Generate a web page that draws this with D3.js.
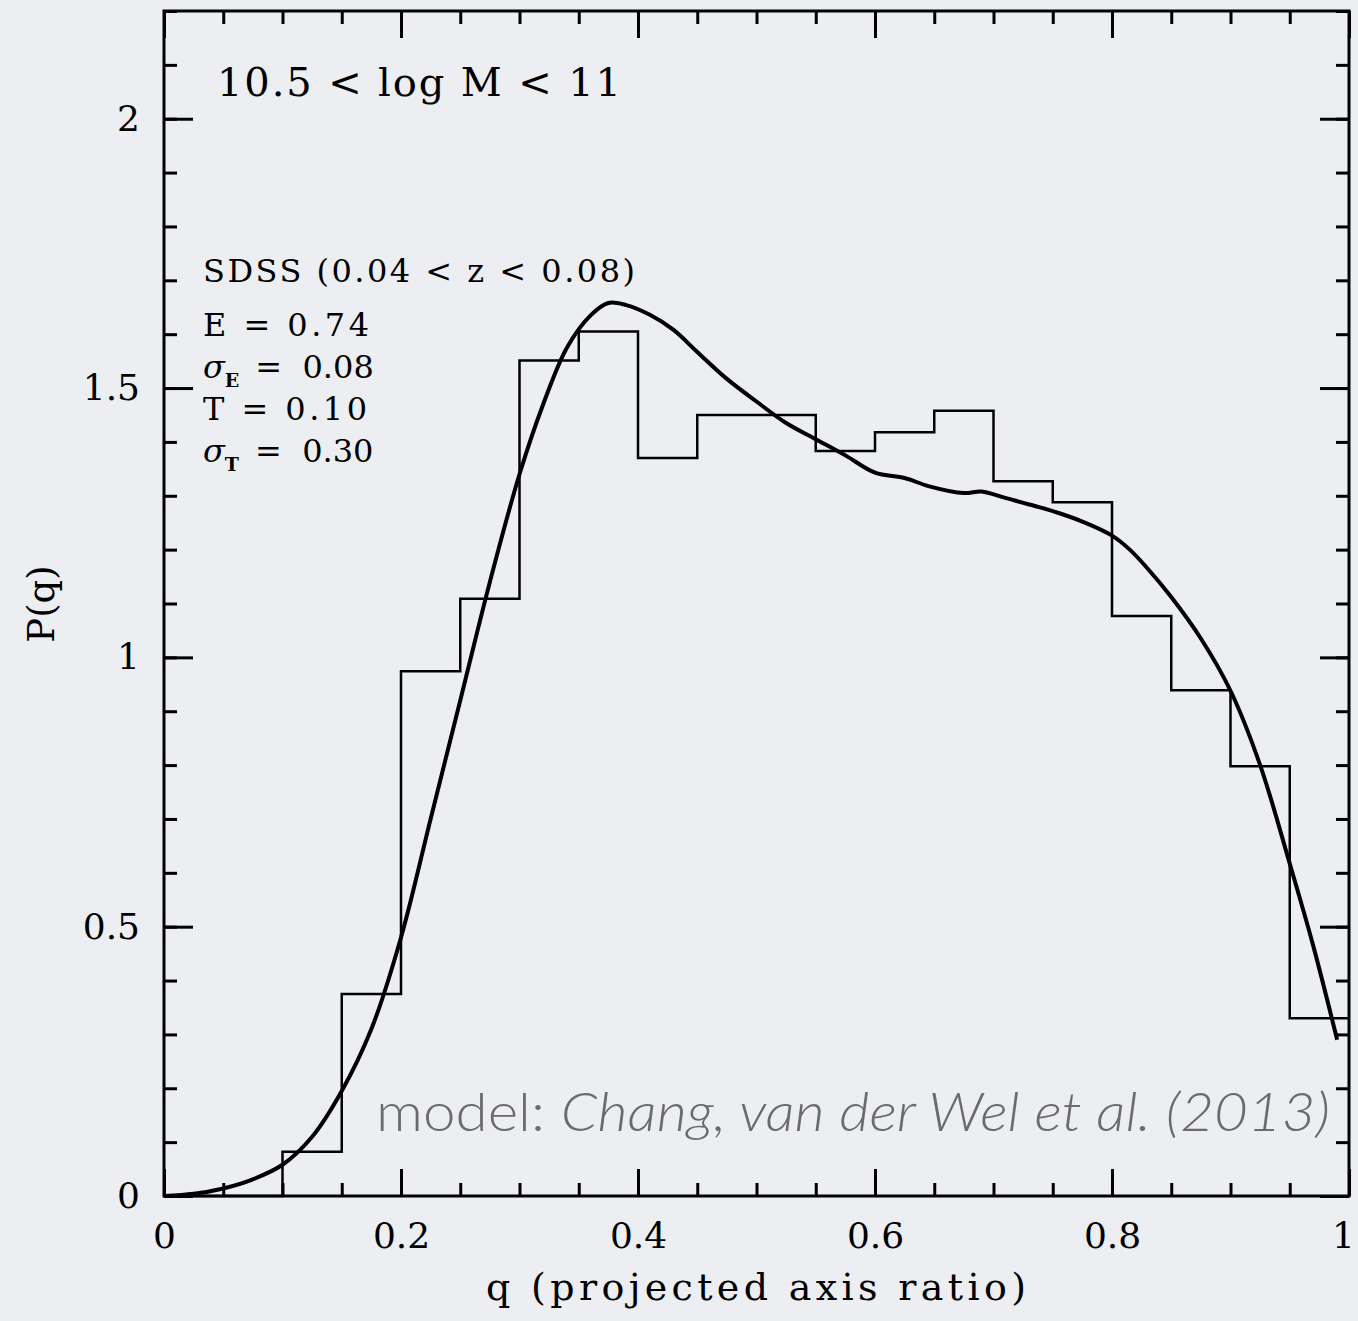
<!DOCTYPE html>
<html>
<head>
<meta charset="utf-8">
<script src="https://cdn.jsdelivr.net/npm/d3@7"></script>
<style>
  html, body { margin: 0; padding: 0; background: #eceef1; }
  svg { display: block; }
</style>
</head>
<body>
<div id="chart"></div>
<script>
// histogram of observed q, bins of 0.05 from 0 to 1
const binStarts = [0, 0.05, 0.1, 0.15, 0.2, 0.25, 0.3, 0.35, 0.4, 0.45,
                   0.5, 0.55, 0.6, 0.65, 0.7, 0.75, 0.8, 0.85, 0.9, 0.95]
const binValues = [0, 0, 0.082, 0.375, 0.974, 1.109, 1.551, 1.605, 1.370, 1.450,
                   1.450, 1.383, 1.418, 1.458, 1.327, 1.288, 1.077, 0.939, 0.798, 0.330]

// model curve
const modelQ = [0, 0.025, 0.05, 0.075, 0.1, 0.125, 0.15, 0.175, 0.2, 0.225, 0.25, 0.275,
                0.3, 0.32, 0.34, 0.36, 0.375, 0.39, 0.41, 0.43, 0.45, 0.475, 0.5, 0.525,
                0.55, 0.575, 0.6, 0.625, 0.645, 0.675, 0.69, 0.71, 0.735, 0.755, 0.775,
                0.8, 0.815, 0.83, 0.85, 0.875, 0.9, 0.925, 0.95, 0.97, 0.99]
const modelP = [0, 0.004, 0.014, 0.031, 0.058, 0.11, 0.195, 0.31, 0.48, 0.70, 0.92, 1.14,
                1.34, 1.47, 1.575, 1.635, 1.658, 1.654, 1.636, 1.608, 1.567, 1.517, 1.475, 1.435,
                1.405, 1.375, 1.343, 1.333, 1.318, 1.305, 1.308, 1.296, 1.281, 1.268, 1.252,
                1.226, 1.2, 1.165, 1.112, 1.035, 0.938, 0.80, 0.617, 0.463, 0.29]

const xMajor = [0, 0.2, 0.4, 0.6, 0.8, 1]
const xLabels = ["0", "0.2", "0.4", "0.6", "0.8", "1"]
const yMajor = [0, 0.5, 1, 1.5, 2]
const yLabels = ["0", "0.5", "1", "1.5", "2"]

const W = 1358, H = 1321
const margin = {left: 164, top: 11, right: 9, bottom: 125}
const pw = W - margin.left - margin.right
const ph = H - margin.top - margin.bottom

const svg = d3.select("#chart").append("svg")
    .attr("width", W).attr("height", H)

const g = svg.append("g")
    .attr("transform", `translate(${margin.left}, ${margin.top})`)

const x = d3.scaleLinear().domain([0, 1]).range([0, pw])
const y = d3.scaleLinear().domain([0, 2.2]).range([ph, 0])

const serif = "'DejaVu Serif', serif"

// minor ticks
const xMinor = d3.range(0, 1.0001, 0.05)
const yMinor = d3.range(0, 2.2001, 0.1)

function styleAxis(sel) {
    sel.select(".domain").remove()
    sel.selectAll(".tick line").attr("stroke", "#000").attr("stroke-width", 3)
    sel.selectAll(".tick text").attr("fill", "#000")
        .style("font-family", serif).style("font-size", "36px")
}

g.append("g").attr("transform", `translate(0,${ph})`)
    .call(d3.axisBottom(x).tickValues(xMinor).tickSize(-13).tickFormat(""))
    .call(styleAxis)
g.append("g")
    .call(d3.axisTop(x).tickValues(xMinor).tickSize(-13).tickFormat(""))
    .call(styleAxis)
g.append("g")
    .call(d3.axisLeft(y).tickValues(yMinor).tickSize(-13).tickFormat(""))
    .call(styleAxis)
g.append("g").attr("transform", `translate(${pw},0)`)
    .call(d3.axisRight(y).tickValues(yMinor).tickSize(-13).tickFormat(""))
    .call(styleAxis)

// major ticks with labels
const xAx = g.append("g").attr("transform", `translate(0,${ph})`)
    .call(d3.axisBottom(x).tickValues(xMajor).tickSize(-27).tickPadding(26)
        .tickFormat((d, i) => xLabels[i]))
    .call(styleAxis)
// last label sits on the right edge, keep it inside
xAx.selectAll(".tick text").filter(d => d === 1).attr("dx", -6)

g.append("g")
    .call(d3.axisTop(x).tickValues(xMajor).tickSize(-27).tickFormat(""))
    .call(styleAxis)
g.append("g")
    .call(d3.axisLeft(y).tickValues(yMajor).tickSize(-29).tickPadding(24)
        .tickFormat((d, i) => yLabels[i]))
    .call(styleAxis)
g.append("g").attr("transform", `translate(${pw},0)`)
    .call(d3.axisRight(y).tickValues(yMajor).tickSize(-29).tickFormat(""))
    .call(styleAxis)

// frame
g.append("rect")
    .attr("x", 0).attr("y", 0).attr("width", pw).attr("height", ph)
    .attr("fill", "none").attr("stroke", "#000").attr("stroke-width", 3)

// histogram
const histPts = binStarts.map((q, i) => [q, binValues[i]])
histPts.push([1, binValues[binValues.length - 1]])
const stepLine = d3.line()
    .x(d => x(d[0])).y(d => y(d[1]))
    .curve(d3.curveStepAfter)
g.append("path")
    .datum(histPts)
    .attr("d", stepLine)
    .attr("fill", "none").attr("stroke", "#000").attr("stroke-width", 2.5)

// model curve
const modelPts = modelQ.map((q, i) => [q, modelP[i]])
const smooth = d3.line()
    .x(d => x(d[0])).y(d => y(d[1]))
    .curve(d3.curveCatmullRom.alpha(0.5))
g.append("path")
    .datum(modelPts)
    .attr("d", smooth)
    .attr("fill", "none").attr("stroke", "#000").attr("stroke-width", 4)
    .attr("stroke-linejoin", "round")

// axis titles
svg.append("text")
    .attr("x", 756).attr("y", 1300)
    .attr("text-anchor", "middle")
    .style("font-family", serif).style("font-size", "38px")
    .attr("textLength", 540).attr("lengthAdjust", "spacing")
    .text("q (projected axis ratio)")

svg.append("text")
    .attr("transform", "translate(54,604) rotate(-90)")
    .attr("text-anchor", "middle")
    .style("font-family", serif).style("font-size", "37px")
    .text("P(q)")

// annotations
svg.append("text")
    .attr("x", 217).attr("y", 96)
    .style("font-family", serif).style("font-size", "40px")
    .attr("xml:space", "preserve")
    .attr("textLength", 404).attr("lengthAdjust", "spacing")
    .text("10.5 < log M < 11")

const info = svg.append("g")
    .style("font-family", serif).style("font-size", "32px")

info.append("text").attr("x", 203).attr("y", 282)
    .attr("textLength", 432).attr("lengthAdjust", "spacing")
    .text("SDSS (0.04 < z < 0.08)")
info.append("text").attr("x", 203).attr("y", 336)
    .attr("textLength", 166).attr("lengthAdjust", "spacing")
    .text("E = 0.74")
const sE = info.append("text").attr("x", 203).attr("y", 378)
sE.append("tspan").style("font-style", "italic").text("σ")
sE.append("tspan").attr("dy", 9).style("font-size", "19px").style("font-weight", "bold").text("E")
sE.append("tspan").attr("dy", -9).attr("dx", 16).text("=  0.08")
info.append("text").attr("x", 203).attr("y", 420)
    .attr("textLength", 164).attr("lengthAdjust", "spacing")
    .text("T = 0.10")
const sT = info.append("text").attr("x", 203).attr("y", 462)
sT.append("tspan").style("font-style", "italic").text("σ")
sT.append("tspan").attr("dy", 9).style("font-size", "19px").style("font-weight", "bold").text("T")
sT.append("tspan").attr("dy", -9).attr("dx", 16).text("=  0.30")
info.selectAll("tspan").attr("xml:space", "preserve")

const credit = svg.append("text")
    .attr("x", 376).attr("y", 1131)
    .attr("fill", "#6b6b6b")
    .style("font-family", "Lato, 'Open Sans', sans-serif")
    .style("font-size", "54px").style("font-weight", 300)
    .attr("textLength", 954).attr("lengthAdjust", "spacingAndGlyphs")
credit.append("tspan").text("model: ")
credit.append("tspan").style("font-style", "italic").text("Chang, van der Wel et al. (2013)")
</script>
</body>
</html>
